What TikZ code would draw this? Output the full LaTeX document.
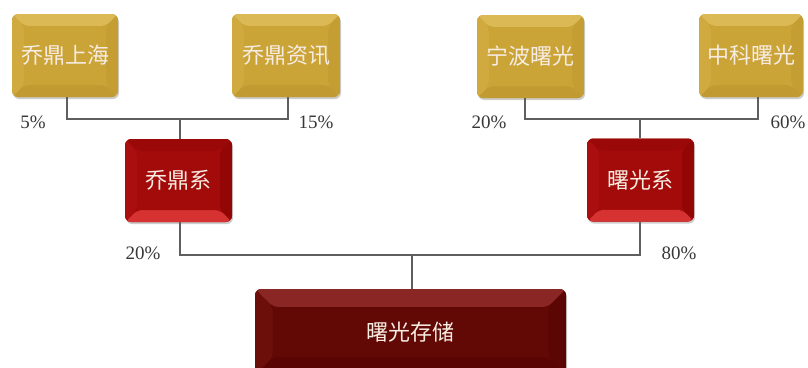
\documentclass[tikz,border=0pt]{standalone}
\usepackage{fontspec}
\newfontfamily\cjk{Noto Sans CJK SC}
\setmainfont{Liberation Serif}
\usetikzlibrary{calc,shadows}
\definecolor{goldBase}{RGB}{203,164,56}
\definecolor{goldTop}{RGB}{219,186,86}
\definecolor{goldRight}{RGB}{197,158,51}
\definecolor{goldBottom}{RGB}{193,155,49}
\definecolor{goldLeft}{RGB}{208,170,62}
\definecolor{redBase}{RGB}{163,10,10}
\definecolor{redTop}{RGB}{154,8,8}
\definecolor{redRight}{RGB}{146,6,6}
\definecolor{redBottom}{RGB}{214,50,50}
\definecolor{redLeft}{RGB}{170,14,14}
\definecolor{darkBase}{RGB}{98,8,5}
\definecolor{darkTop}{RGB}{138,38,36}
\definecolor{darkRight}{RGB}{92,6,4}
\definecolor{darkBottom}{RGB}{90,5,3}
\definecolor{darkLeft}{RGB}{108,14,10}
\definecolor{lineGray}{RGB}{95,95,95}
\definecolor{txtLight}{RGB}{246,236,226}
\definecolor{pctGray}{RGB}{55,55,55}
\newcommand\bevelparts[6]{%
  \coordinate (bnw) at (path picture bounding box.north west);
  \coordinate (bne) at (path picture bounding box.north east);
  \coordinate (bse) at (path picture bounding box.south east);
  \coordinate (bsw) at (path picture bounding box.south west);
  \fill[#2] (bnw) -- (bne) -- ($(bne)+(-#1,#1)$) -- ($(bnw)+(#1,#1)$) -- cycle;
  \fill[#3] (bne) -- (bse) -- ($(bse)+(-#1,-#1)$) -- ($(bne)+(-#1,#1)$) -- cycle;
  \fill[#4] (bse) -- (bsw) -- ($(bsw)+(#1,-#1)$) -- ($(bse)+(-#1,-#1)$) -- cycle;
  \fill[#5] (bsw) -- (bnw) -- ($(bnw)+(#1,#1)$) -- ($(bsw)+(#1,-#1)$) -- cycle;
  \fill[#6] ($(bnw)+(#1,#1)$) rectangle ($(bse)+(-#1,-#1)$);
}
\tikzset{
  box/.style={rounded corners=6pt, inner sep=0pt, text=txtLight,
    font=\cjk\fontsize{22}{26}\selectfont,
    drop shadow={shadow xshift=1pt, shadow yshift=-2pt, opacity=0.2, fill=black}},
  goldbox/.style={box, fill=goldBase, minimum width=#1, minimum height=83pt,
    path picture={\bevelparts{12}{goldTop}{goldRight}{goldBottom}{goldLeft}{goldBase}}},
  redbox/.style={box, fill=redBase, minimum width=107pt, minimum height=83pt,
    path picture={\bevelparts{12}{redTop}{redRight}{redBottom}{redLeft}{redBase}}},
  darkbox/.style={box, fill=darkBase, minimum width=311pt, minimum height=86pt,
    path picture={\bevelparts{18}{darkTop}{darkRight}{darkBottom}{darkLeft}{darkBase}}},
  conn/.style={draw=lineGray, line width=1.5pt},
  pct/.style={text=pctGray, font=\fontsize{19}{22}\selectfont, inner sep=0pt}
}
\begin{document}
\begin{tikzpicture}[x=1pt,y=-1pt]
\useasboundingbox (0,0) rectangle (808,367);
% top row
\node[goldbox=106pt] (qdsh) at (65,55.5) {乔鼎上海};
\node[goldbox=108pt] (qdzx) at (286,55.5) {乔鼎资讯};
\node[goldbox=107pt] (nbsg) at (530.5,56.5) {宁波曙光};
\node[goldbox=104pt] (zksg) at (751,55.5) {中科曙光};
% middle row
\node[redbox] (qdx) at (178.5,180.5) {乔鼎系};
\node[redbox] (sgx) at (640.5,180) {曙光系};
% bottom
\node[darkbox] (sgcc) at (410.5,332) {曙光存储};
% connectors
\draw[conn] (qdsh.south -| 67,0) |- (180,119) -| (qdzx.south -| 288,0);
\draw[conn] (qdx.north -| 180,0) -- (180,119);
\draw[conn] (nbsg.south -| 525,0) |- (641,119) -| (zksg.south -| 758,0);
\draw[conn] (sgx.north -| 640,0) -- (640,119);
\draw[conn] (qdx.south -| 180,0) |- (412,255) -| (sgx.south -| 640,0);
\draw[conn] (sgcc.north -| 412,0) -- (412,255);
% percentages
\node[pct] (p1) at (33,122) {5\%};
\node[pct] (p2) at (316,122) {15\%};
\node[pct] (p3) at (489,122) {20\%};
\node[pct] (p4) at (788,122) {60\%};
\node[pct] (p5) at (143,253) {20\%};
\node[pct] (p6) at (679,253) {80\%};
\end{tikzpicture}
\end{document}
